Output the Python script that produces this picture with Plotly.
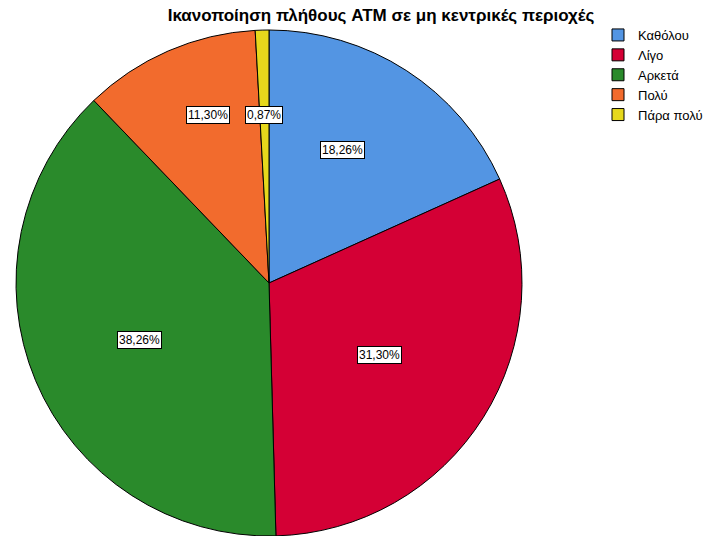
import math
import plotly.graph_objects as go

# Survey responses (counts) for satisfaction with the number of ATMs in non-central areas
categories = ["Καθόλου", "Λίγο", "Αρκετά", "Πολύ", "Πάρα πολύ"]
counts = [21, 36, 44, 13, 1]
colors = ["#5395E3", "#D40035", "#2A8A2B", "#F26B2D", "#E6D81C"]
# placement of each percentage box: fraction of radius and angular nudge (degrees)
label_radius = [0.60, 0.52, 0.557, 0.707, 0.664]
label_nudge = [-4.0, 1.0, -1.0, 3.5, 0.0]

W, H = 709, 536
L, T, R, B = 16, 30, 187, 0

fig = go.Figure(go.Pie(
    labels=categories,
    values=counts,
    sort=False,
    direction="clockwise",
    rotation=0,
    marker=dict(colors=colors, line=dict(color="#000000", width=1)),
    textinfo="none",
    hoverinfo="label+percent",
))

# percentage boxes placed at each slice's mid-angle
total = sum(counts)
cum = 0
annotations = []
for n, r, d in zip(counts, label_radius, label_nudge):
    mid = (cum + n / 2) / total * 2 * math.pi + math.radians(d)
    cum += n
    pct = f"{100 * n / total:.2f}".replace(".", ",") + "%"
    annotations.append(dict(
        x=0.5 + 0.5 * r * math.sin(mid),
        y=0.5 + 0.5 * r * math.cos(mid),
        xref="paper", yref="paper",
        text=pct, showarrow=False,
        font=dict(family="Liberation Sans, Arial, sans-serif", size=12, color="#000000"),
        bgcolor="#FFFFFF", bordercolor="#000000", borderwidth=1, borderpad=1,
        xanchor="center", yanchor="middle",
    ))

fig.update_layout(
    width=W, height=H,
    margin=dict(l=L, r=R, t=T, b=B, pad=0, autoexpand=False),
    paper_bgcolor="#FFFFFF",
    plot_bgcolor="#FFFFFF",
    title=dict(
        text="<b>Ικανοποίηση πλήθους ATM σε μη κεντρικές περιοχές</b>",
        x=381 / W, xanchor="center", xref="container",
        y=1 - 15 / H, yanchor="middle",
        font=dict(family="Liberation Sans, Arial, sans-serif", size=17, color="#000000"),
    ),
    legend=dict(
        x=(598 - L) / (W - L - R), xanchor="left",
        y=(H - 20 - B) / (H - T - B), yanchor="top",
        font=dict(family="Liberation Sans, Arial, sans-serif", size=13, color="#000000"),
        bgcolor="rgba(0,0,0,0)",
        tracegroupgap=0, itemwidth=30,
    ),
    annotations=annotations,
)

fig.write_html("out.html")
